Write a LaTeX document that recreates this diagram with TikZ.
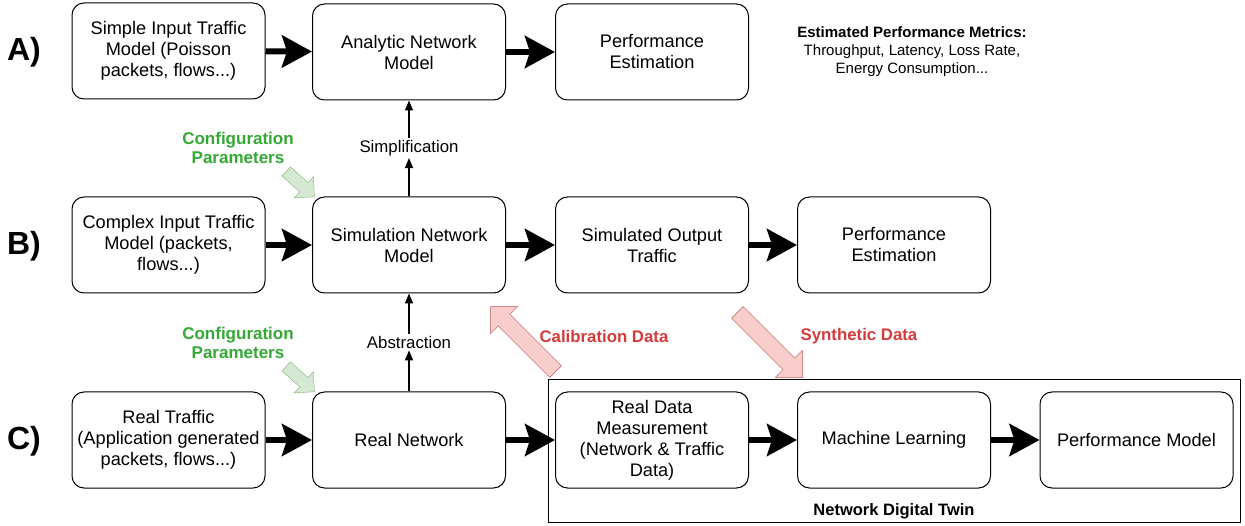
\documentclass[tikz,border=0pt]{standalone}
\usepackage{fontspec}
\setmainfont{Liberation Sans}
\usetikzlibrary{arrows.meta, shapes.arrows}

\definecolor{cfggreen}{HTML}{33AA33}
\definecolor{datared}{HTML}{D63A3A}
\definecolor{greenfill}{HTML}{D5E8D4}
\definecolor{greenline}{HTML}{82B366}
\definecolor{redfill}{HTML}{F8CECC}
\definecolor{redline}{HTML}{B85450}

\tikzset{
    block/.style={draw, rounded corners=12pt, line width=1pt, minimum width=193pt,
        minimum height=96pt, align=center,
        font=\fontsize{18.2}{21}\selectfont},
    rowlabel/.style={font=\fontsize{32}{36}\selectfont\bfseries},
    flow/.style={line width=6pt, -{Stealth[length=30pt, width=32pt, inset=5pt]}},
    thin/.style={line width=1.5pt, -{Triangle[length=10pt, width=8pt]}},
    steplabel/.style={font=\fontsize{16.8}{20}\selectfont, fill=white, inner sep=2pt},
    cfgtext/.style={text=cfggreen, font=\fontsize{17}{19.5}\selectfont\bfseries, align=center},
    datatext/.style={text=datared, font=\fontsize{16.8}{20}\selectfont\bfseries},
    cfgarrow/.style={single arrow, draw=greenline, fill=greenfill, minimum height=38pt,
        inner xsep=0pt, inner ysep=6pt, single arrow head extend=8pt},
    dataarrow/.style={single arrow, draw=redline, fill=redfill, minimum height=92pt,
        inner xsep=0pt, inner ysep=8pt, single arrow head extend=11pt}
}

\begin{document}
\begin{tikzpicture}[x=1pt, y=-1pt]
    \useasboundingbox (0,0) rectangle (1245,526);

    % Row labels:
    \node[rowlabel] (la) at (24,52) {A)};
    \node[rowlabel] (lb) at (24,246) {B)};
    \node[rowlabel] (lc) at (24,441) {C)};

    % Row A:
    \node[block] (simple) at (168.5,51) {Simple Input Traffic\\Model (Poisson\\packets, flows...)};
    \node[block] (analytic) at (409,52) {Analytic Network\\Model};
    \node[block] (perfa) at (652,52) {Performance\\Estimation};
    \node[align=center, font=\fontsize{15}{18}\selectfont] (metrics) at (912,52)
        {\textbf{Estimated Performance Metrics:}\\Throughput, Latency, Loss Rate,\\Energy Consumption...};
    \draw[flow] (simple) -- (analytic);
    \draw[flow] (analytic) -- (perfa);

    % Row B:
    \node[block] (complex) at (168.5,245) {Complex Input Traffic\\Model (packets,\\flows...)};
    \node[block] (simnet) at (409,245) {Simulation Network\\Model};
    \node[block] (simout) at (652,245) {Simulated Output\\Traffic};
    \node[block] (perfb) at (894,245) {Performance\\Estimation};
    \draw[flow] (complex) -- (simnet);
    \draw[flow] (simnet) -- (simout);
    \draw[flow] (simout) -- (perfb);

    % Row C:
    \node[block] (realtraffic) at (168.5,440) {Real Traffic\\(Application generated\\packets, flows...)};
    \node[block] (realnet) at (409,440) {Real Network};
    \node[block] (measure) at (652,440) {Real Data\\Measurement\\(Network \& Traffic\\Data)};
    \node[block] (ml) at (894,440) {Machine Learning};
    \node[block] (perfmodel) at (1136.5,440) {Performance Model};
    \draw[flow] (realtraffic) -- (realnet);
    \draw[flow] (realnet) -- (measure);
    \draw[flow] (measure) -- (ml);
    \draw[flow] (ml) -- (perfmodel);

    % Digital twin frame:
    \draw[line width=1pt] (548,380) rectangle (1240,522);
    \node[font=\fontsize{16.5}{19}\selectfont\bfseries] (twin) at (894,511) {Network Digital Twin};

    % Vertical steps:
    \node[steplabel] (simp) at (409,148) {Simplification};
    \draw[thin] (simnet) -- (simp);
    \draw[thin] (simp) -- (analytic);
    \node[steplabel] (abst) at (409,342) {Abstraction};
    \draw[thin] (realnet) -- (abst);
    \draw[thin] (abst) -- (simnet);

    % Configuration parameters:
    \node[cfgtext] (cfgb) at (238,148) {Configuration\\Parameters};
    \node[cfgarrow, rotate=-42] (cfgbarrow) at (298,182) {};
    \node[cfgtext] (cfgc) at (238,343) {Configuration\\Parameters};
    \node[cfgarrow, rotate=-42] (cfgcarrow) at (298,377) {};

    % Data exchange:
    \node[dataarrow, rotate=135] (calib) at (526,342) {};
    \node[datatext] (calibtext) at (604,336) {Calibration Data};
    \node[dataarrow, rotate=-45] (synth) at (767,342) {};
    \node[datatext] (synthtext) at (859,336) {Synthetic Data};
\end{tikzpicture}
\end{document}
